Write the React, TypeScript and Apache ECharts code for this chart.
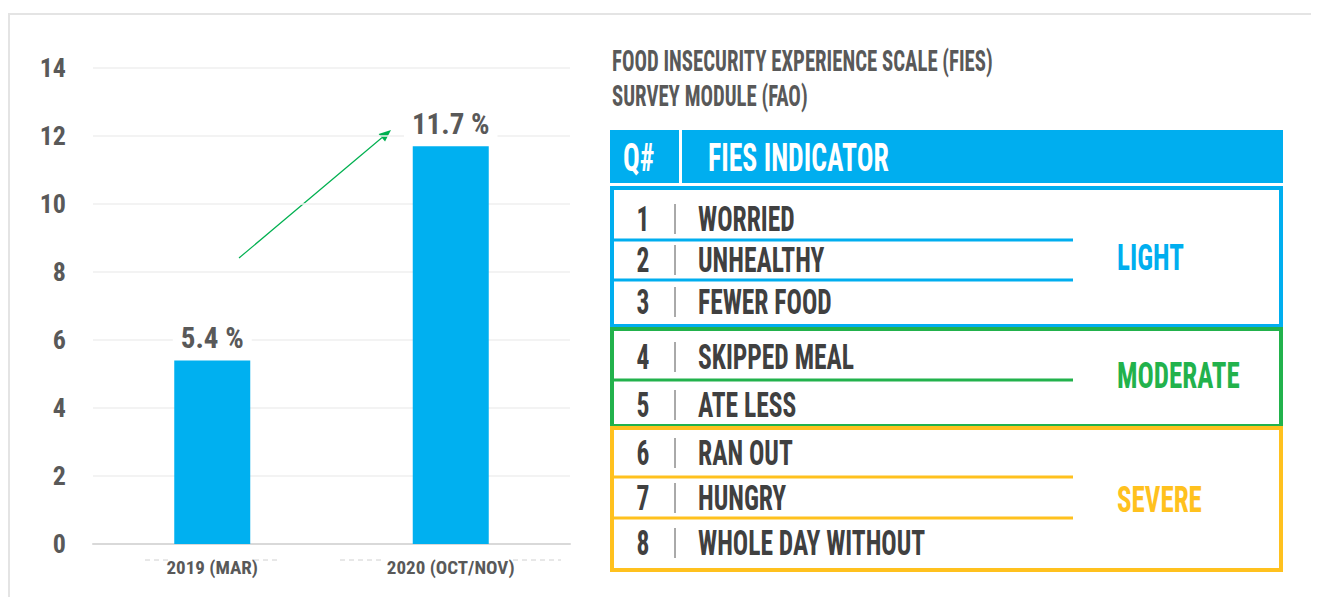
import React, { useEffect, useRef } from "react";
import * as echarts from "echarts";

// ---------- data ----------
const categories = ["2019 (MAR)", "2020 (OCT/NOV)"];
const values = [5.4, 11.7];
const yMax = 14;
const yInterval = 2;

const titleLines = ["FOOD INSECURITY EXPERIENCE SCALE (FIES)", "SURVEY MODULE (FAO)"];
const headerLabels = ["Q#", "FIES INDICATOR"];
const questionNumbers = ["1", "2", "3", "4", "5", "6", "7", "8"];
const indicators = [
  "WORRIED",
  "UNHEALTHY",
  "FEWER FOOD",
  "SKIPPED MEAL",
  "ATE LESS",
  "RAN OUT",
  "HUNGRY",
  "WHOLE DAY WITHOUT",
];
const levelNames = ["LIGHT", "MODERATE", "SEVERE"];
const levelColors = ["#00aeef", "#22b24c", "#ffc11e"];
const levelRowCounts = [3, 2, 3];

// ---------- styling ----------
const COND = "'Liberation Sans Narrow', 'Roboto Condensed', 'DejaVu Sans Condensed', 'Arial Narrow', sans-serif";
const SX = 0.73;
const BAR = "#00b0f0";
const TXT = "#595959";
const ROWTXT = "#404040";

function buildGraphic() {
  const g: any[] = [];
  // outer light frame
  g.push({
    type: "rect",
    shape: { x: 1, y: 6, width: 1400, height: 700 },
    style: { fill: "none", stroke: "#e4e4e4", lineWidth: 2 },
    silent: true,
  });

  // faint dashes beside the category labels
  const dashes = [
    [137, 160],
    [246, 269],
    [332, 377],
    [505, 553],
  ];
  dashes.forEach(([a, b]) => {
    g.push({
      type: "line",
      shape: { x1: a, y1: 552, x2: b, y2: 552 },
      style: { stroke: "#d0d0d0", lineWidth: 1, lineDash: [5, 4] },
    });
  });

  // arrow
  const ax1 = 231, ay1 = 250, ax2 = 383, ay2 = 122;
  const dx = ax2 - ax1, dy = ay2 - ay1;
  const len = Math.sqrt(dx * dx + dy * dy);
  const ux = dx / len, uy = dy / len;
  const hl = 12, hw = 5;
  const bx = ax2 - ux * hl, by = ay2 - uy * hl;
  g.push({
    type: "line",
    shape: { x1: ax1, y1: ay1, x2: bx, y2: by },
    style: { stroke: "#00b050", lineWidth: 1.2 },
  });
  g.push({
    type: "polygon",
    shape: {
      points: [
        [ax2, ay2],
        [bx - uy * hw, by + ux * hw],
        [bx + uy * hw, by - ux * hw],
      ],
    },
    style: { fill: "#00b050" },
  });

  // titles
  const titleY = [53, 88];
  titleLines.forEach((t, i) => {
    g.push({
      type: "text",
      x: 604,
      y: titleY[i],
      scaleX: 0.717,
      style: {
        text: t,
        fill: TXT,
        fontSize: 29,
        fontWeight: "bold",
        fontFamily: COND,
        textAlign: "left",
        textVerticalAlign: "middle",
      },
    });
  });

  // header
  g.push({
    type: "rect",
    shape: { x: 602, y: 122, width: 673, height: 53 },
    style: { fill: "#00aeef" },
  });
  g.push({
    type: "rect",
    shape: { x: 671, y: 122, width: 3, height: 53 },
    style: { fill: "#ffffff" },
  });
  const headerX = [615, 700];
  headerLabels.forEach((t, i) => {
    g.push({
      type: "text",
      x: headerX[i],
      y: 150,
      scaleX: SX,
      style: {
        text: t,
        fill: "#ffffff",
        fontSize: 38,
        fontWeight: "bold",
        fontFamily: COND,
        textAlign: "left",
        textVerticalAlign: "middle",
      },
    });
  });

  // group boxes
  const boxes = [
    { y: 180, h: 138 },
    { y: 321, h: 97 },
    { y: 420, h: 142 },
  ];
  const seps = [[232, 272], [372], [469, 510]];
  const rowY = [211, 252, 294, 349, 397, 445, 490, 535];
  const levelY = [249, 367, 491];
  boxes.forEach((b, i) => {
    g.push({
      type: "rect",
      shape: { x: 604, y: b.y, width: 669, height: b.h },
      style: { fill: "none", stroke: levelColors[i], lineWidth: 4 },
      z: 10 + i,
    });
    seps[i].forEach((sy) => {
      g.push({
        type: "line",
        shape: { x1: 606, y1: sy, x2: 1065, y2: sy },
        style: { stroke: levelColors[i], lineWidth: 3 },
      });
    });
    g.push({
      type: "text",
      x: 1109,
      y: levelY[i],
      scaleX: SX,
      style: {
        text: levelNames[i],
        fill: levelColors[i],
        fontSize: 37,
        fontWeight: "bold",
        fontFamily: COND,
        textAlign: "left",
        textVerticalAlign: "middle",
      },
    });
  });

  let row = 0;
  levelRowCounts.forEach((cnt) => {
    for (let k = 0; k < cnt; k++, row++) {
      const y = rowY[row];
      g.push({
        type: "text",
        x: 635,
        y,
        scaleX: SX,
        style: {
          text: questionNumbers[row],
          fill: ROWTXT,
          fontSize: 35,
          fontWeight: "bold",
          fontFamily: COND,
          textAlign: "center",
          textVerticalAlign: "middle",
        },
      });
      g.push({
        type: "line",
        shape: { x1: 667, y1: y - 15, x2: 667, y2: y + 15 },
        style: { stroke: "#555555", lineWidth: 1 },
      });
      g.push({
        type: "text",
        x: 690,
        y,
        scaleX: SX,
        style: {
          text: indicators[row],
          fill: ROWTXT,
          fontSize: 35,
          fontWeight: "bold",
          fontFamily: COND,
          textAlign: "left",
          textVerticalAlign: "middle",
        },
      });
    }
  });
  return g;
}

export default function App() {
  const ref = useRef<HTMLDivElement>(null);
  useEffect(() => {
    if (!ref.current) return;
    const chart = echarts.init(ref.current, null, { renderer: "svg" });
    chart.setOption({
      animation: false,
      backgroundColor: "#ffffff",
      grid: { left: 85, right: 749, top: 60, bottom: 53, containLabel: false },
      xAxis: {
        type: "category",
        data: categories,
        axisLine: { show: true, lineStyle: { color: "#d9d9d9", width: 2 } },
        axisTick: { show: false },
        axisLabel: {
          color: TXT,
          fontSize: 19,
          fontWeight: "bold",
          fontFamily: COND,
          margin: 14,
        },
      },
      yAxis: {
        type: "value",
        min: 0,
        max: yMax,
        interval: yInterval,
        axisLine: { show: false },
        axisTick: { show: false },
        splitLine: { lineStyle: { color: "#efefef", width: 1.5 } },
        axisLabel: {
          color: TXT,
          fontSize: 26,
          fontWeight: "bold",
          fontFamily: COND,
          margin: 27,
        },
      },
      series: [
        {
          type: "bar",
          data: values,
          barWidth: 76,
          itemStyle: { color: BAR },
          label: {
            show: true,
            position: "top",
            distance: 8,
            formatter: "{c} %",
            color: TXT,
            fontSize: 29,
            fontWeight: "bold",
            fontFamily: COND,
            backgroundColor: "#ffffff",
            padding: [2, 8, 0, 8],
          },
        },
      ],
      graphic: buildGraphic(),
    });
    return () => chart.dispose();
  }, []);
  return <div ref={ref} style={{ width: 1311, height: 589 }} />;
}
